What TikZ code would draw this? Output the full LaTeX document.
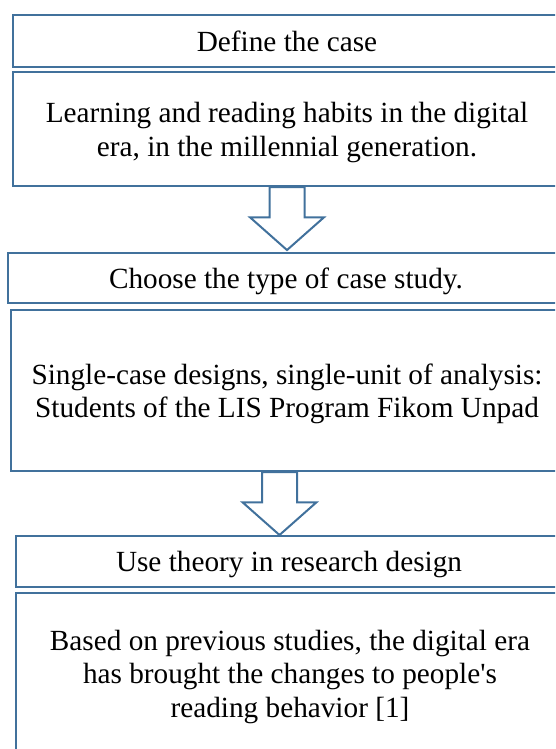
\documentclass[tikz,border=0pt]{standalone}
\usepackage{fontspec}
\setmainfont{Liberation Serif}[Ligatures=TeXOff]
\usetikzlibrary{shapes.arrows,calc}
\definecolor{boxblue}{HTML}{41719C}
\begin{document}
\begin{tikzpicture}[font=\fontsize{29.25}{33.5}\selectfont,x=1pt,y=-1pt]
    \tikzset{
        casebox/.style={
            draw=boxblue,
            line width=2pt,
            align=center,
            text depth=0pt
        },
        downarrow/.style={
            single arrow,
            draw=boxblue,
            fill=white,
            line width=2pt,
            rotate=-90,
            anchor=tail,
            inner xsep=0pt,
            inner ysep=16.5pt,
            outer sep=0pt,
            minimum height=63pt,
            single arrow head extend=19.5pt,
            single arrow tip angle=97
        }
    }
    \clip (0,0) rectangle (555,749);

    \node[casebox,minimum width=549pt,minimum height=51.7pt] (case) at (287,40.8)
        {Define the case};
    \node[casebox,minimum width=549pt,minimum height=113.7pt] (habits) at (287,129.2)
        {Learning and reading habits in the digital\\era, in the millennial generation.};

    \node[casebox,minimum width=555.4pt,minimum height=50.6pt] (ctype) at (286,278)
        {Choose the type of case study.};
    \node[casebox,minimum width=552.6pt,minimum height=161pt] (design) at (287,390.5)
        {Single-case designs, single-unit of analysis:\\Students of the LIS Program Fikom Unpad};

    \node[casebox,minimum width=546.6pt,minimum height=51.3pt] (theory) at (289,561.7)
        {Use theory in research design};
    \node[casebox,minimum width=548pt,minimum height=160.7pt] (prior) at (290,673.7)
        {Based on previous studies, the digital era\\has brought the changes to people's\\reading behavior [1]};

    \node[downarrow] (stepa) at (habits.south) {};
    \node[downarrow] (stepb) at ($(design.south)+(-7.5,0)$) {};
\end{tikzpicture}
\end{document}
